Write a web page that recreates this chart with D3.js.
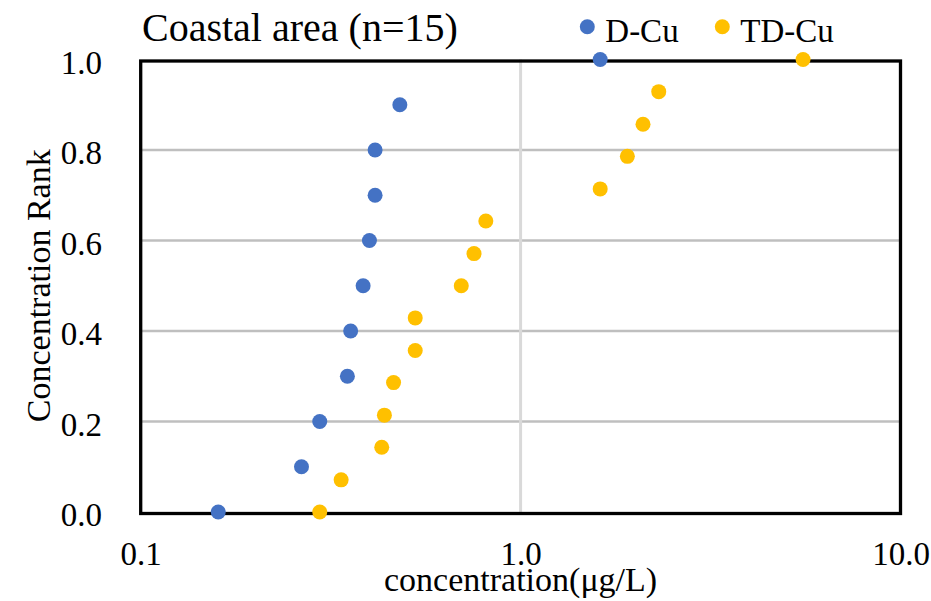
<!DOCTYPE html>
<html>
<head>
<meta charset="utf-8">
<script src="https://cdn.jsdelivr.net/npm/d3@7"></script>
<style>
  html, body { margin: 0; padding: 0; background: #fff; }
  svg { display: block; font-family: "Liberation Serif", "Times New Roman", serif; }
</style>
</head>
<body>
<svg id="chart" width="931" height="601"></svg>
<script>
// ---- data ----
const seriesNames = ["D-Cu", "TD-Cu"];
const seriesColors = ["#4472C4", "#FFC000"];

const dCuConc = [0.160, 0.265, 0.296, 0.350, 0.357, 0.385, 0.400, 0.414, 0.414, 0.481, 1.62];
const dCuRank = [0.0, 0.1, 0.2, 0.3, 0.4, 0.5, 0.6, 0.7, 0.8, 0.9, 1.0];

const tdCuConc = [0.296, 0.337, 0.431, 0.438, 0.463, 0.528, 0.528, 0.698, 0.754, 0.810, 1.62, 1.91, 2.10, 2.31, 5.54];
const tdCuRank = [0.0, 0.071, 0.143, 0.214, 0.286, 0.357, 0.429, 0.5, 0.571, 0.643, 0.714, 0.786, 0.857, 0.929, 1.0];

const xTickValues = [0.1, 1, 10];
const xTickLabels = ["0.1", "1.0", "10.0"];
const yTickValues = [0, 0.2, 0.4, 0.6, 0.8, 1.0];
const yTickLabels = ["0.0", "0.2", "0.4", "0.6", "0.8", "1.0"];

const titleText = "Coastal area (n=15)";
const xTitle = "concentration(μg/L)";
const yTitle = "Concentration Rank";

// ---- layout ----
const svg = d3.select("#chart");
const plot = { left: 140.7, right: 900.5, top: 59.5, bottom: 512 };

const x = d3.scaleLog().domain([0.1, 10]).range([plot.left, plot.right]);
const y = d3.scaleLinear().domain([0, 1]).range([plot.bottom, plot.top]);

// horizontal gridlines
svg.append("g")
  .selectAll("line")
  .data(yTickValues.filter(v => v > 0 && v < 1))
  .join("line")
  .attr("x1", plot.left).attr("x2", plot.right)
  .attr("y1", d => y(d)).attr("y2", d => y(d))
  .attr("stroke", "#BFBFBF").attr("stroke-width", 2.5);

// vertical gridlines
svg.append("g")
  .selectAll("line")
  .data(xTickValues.filter(v => v > 0.1 && v < 10))
  .join("line")
  .attr("x1", d => x(d)).attr("x2", d => x(d))
  .attr("y1", plot.top).attr("y2", plot.bottom + 1.5)
  .attr("stroke", "#D9D9D9").attr("stroke-width", 3);

// plot frame
svg.append("rect")
  .attr("x", plot.left).attr("y", plot.top + 1.5)
  .attr("width", plot.right - plot.left)
  .attr("height", plot.bottom + 1.5 - plot.top - 1.5)
  .attr("fill", "none").attr("stroke", "#000").attr("stroke-width", 3.3);

// y axis labels
const yAxis = d3.axisLeft(y).tickValues(yTickValues)
  .tickFormat((d, i) => yTickLabels[i]).tickSize(0).tickPadding(0);
const gy = svg.append("g").attr("transform", `translate(${plot.left - 38.7},0)`).call(yAxis);
gy.select(".domain").remove();
gy.selectAll("text")
  .attr("font-family", "Liberation Serif, Times New Roman, serif")
  .attr("font-size", 33).attr("fill", "#000")
  .attr("dy", "0.42em");

// x axis labels
const xAxis = d3.axisBottom(x).tickValues(xTickValues)
  .tickFormat((d, i) => xTickLabels[i]).tickSize(0).tickPadding(0);
const gx = svg.append("g").attr("transform", `translate(0,${plot.bottom + 53})`).call(xAxis);
gx.select(".domain").remove();
gx.selectAll("text")
  .attr("font-family", "Liberation Serif, Times New Roman, serif")
  .attr("font-size", 33).attr("fill", "#000")
  .attr("dy", 0);

// series points
const series = [
  { name: seriesNames[0], color: seriesColors[0], xs: dCuConc, ys: dCuRank },
  { name: seriesNames[1], color: seriesColors[1], xs: tdCuConc, ys: tdCuRank }
];
series.forEach(s => {
  svg.append("g")
    .selectAll("circle")
    .data(s.xs.map((v, i) => [v, s.ys[i]]))
    .join("circle")
    .attr("cx", d => x(d[0]))
    .attr("cy", d => y(d[1]))
    .attr("r", 7.5)
    .attr("fill", s.color);
});

// title
svg.append("text")
  .attr("x", 142).attr("y", 40.5)
  .attr("font-size", 40).attr("fill", "#000")
  .text(titleText);

// legend
const legendX = [587.3, 722.3];
series.forEach((s, i) => {
  svg.append("circle").attr("cx", legendX[i]).attr("cy", 26.7).attr("r", 7.5).attr("fill", s.color);
  svg.append("text").attr("x", legendX[i] + 18).attr("y", 41.5)
    .attr("font-size", 33).attr("fill", "#000").text(s.name);
});

// axis titles
svg.append("text")
  .attr("x", (plot.left + plot.right) / 2).attr("y", 591)
  .attr("text-anchor", "middle")
  .attr("font-size", 34).attr("fill", "#000")
  .text(xTitle);

svg.append("text")
  .attr("transform", `translate(50,${(plot.top + plot.bottom) / 2}) rotate(-90)`)
  .attr("text-anchor", "middle")
  .attr("font-size", 34).attr("fill", "#000")
  .text(yTitle);
</script>
</body>
</html>
